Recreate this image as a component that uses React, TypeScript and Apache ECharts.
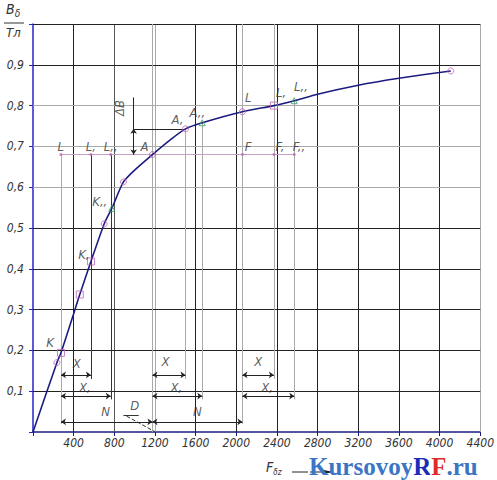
import React, { useEffect, useRef } from 'react';
import * as echarts from 'echarts';

// ---------- data ----------
const xTicks = [400, 800, 1200, 1600, 2000, 2400, 2800, 3200, 3600, 4000, 4400];
const yTicks = [0.1, 0.2, 0.3, 0.4, 0.5, 0.6, 0.7, 0.8, 0.9];
const xGridDark = [400, 1600, 2000, 2400, 2800, 3200, 3600, 4000];
const xGridMid = [800];
const xGridLight = [1200, 4400];
const yGridDark = [0.1, 0.2, 0.3, 0.4, 0.5, 0.9, 1.0];
const yGridLight = [0.6, 0.7, 0.8];

const curveF = [0, 235, 275, 400, 460, 570, 700, 775, 890, 1000, 1175, 1350, 1500, 1665, 2060, 2370, 2570, 2800, 3200, 3600, 4110];
const curveB = [0, 0.17, 0.194, 0.29, 0.337, 0.418, 0.51, 0.548, 0.613, 0.642, 0.68, 0.716, 0.743, 0.758, 0.785, 0.8, 0.812, 0.828, 0.85, 0.867, 0.885];

const squareF = [275, 460, 570, 2370];
const squareB = [0.194, 0.337, 0.418, 0.8];
const circleF = [235, 700, 890, 1175, 1500, 2060, 4110];
const circleB = [0.17, 0.51, 0.613, 0.68, 0.743, 0.785, 0.885];
const greenF = [775, 1665, 2570];
const greenB = [0.548, 0.758, 0.812];

const levelB = 0.68;
const levelF = [275, 570, 765, 2060, 2370, 2570];

// vertical construction lines: F, from B, to B, dark?
const vertF = [275, 570, 765, 1175, 1500, 1665, 2060, 2370, 2570];
const vertTop = [0.68, 0.68, 0.68, 1.0, 0.743, 0.758, 1.0, 1.0, 0.812];
const vertBottom = [0.02, 0.13, 0.08, 0.0, 0.13, 0.08, 0.02, 0.13, 0.08];
const vertDark = [false, true, true, false, false, false, false, false, false];

const dimXStart = [275, 1175, 2060];
const dimXEnd = [570, 1500, 2370];
const dimXLevel = 0.14;
const dimX1End = [765, 1665, 2570];
const dimX1Level = 0.088;
const dimNStart = [275, 1175];
const dimNEnd = [1175, 2060];
const dimNLevel = 0.025;

const deltaF = 990;
const deltaTop = 0.82;

const labelText = ['K', 'K,', 'K,,', 'A', 'A,', 'A,,', 'L', 'L,', 'L,,', 'L', 'L,', 'L,,', 'F', 'F,', 'F,,',
  'X', 'X', 'X', 'X,', 'X,', 'X,', 'N', 'N', 'D'];
const labelF = [167, 500, 657, 1098, 1421, 1617, 2117, 2440, 2636, 274, 568, 764, 2117, 2430, 2617,
  431, 1303, 2215, 510, 1411, 2303, 715, 1617, 1000];
const labelB = [0.22, 0.436, 0.564, 0.70, 0.765, 0.784, 0.819, 0.833, 0.846, 0.70, 0.70, 0.70, 0.70, 0.70, 0.70,
  0.167, 0.172, 0.172, 0.108, 0.108, 0.108, 0.051, 0.051, 0.064];

// ---------- styles ----------
const FONT = '"Liberation Sans Narrow", "DejaVu Sans Condensed", "Liberation Sans", sans-serif';
const NAVY = '#1c1c80';
const PINK = '#c062b8';
const GREEN = '#2fa060';

const pair = (a: number[], b: number[]) => a.map((v, i) => [v, b[i]]);

export default function App() {
  const ref = useRef<HTMLDivElement>(null);
  useEffect(() => {
    if (!ref.current) return;
    const chart = echarts.init(ref.current, null, { renderer: 'svg' });

    const gridLines: any[] = [];
    xGridDark.forEach(v => gridLines.push({ xAxis: v, lineStyle: { color: '#222', width: 1, type: 'solid' } }));
    xGridMid.forEach(v => gridLines.push({ xAxis: v, lineStyle: { color: '#555', width: 1, type: 'solid' } }));
    xGridLight.forEach(v => gridLines.push({ xAxis: v, lineStyle: { color: '#aaa', width: 1, type: 'solid' } }));
    yGridDark.forEach(v => gridLines.push({ yAxis: v, lineStyle: { color: '#222', width: 1, type: 'solid' } }));
    yGridLight.forEach(v => gridLines.push({ yAxis: v, lineStyle: { color: '#aaa', width: 1, type: 'solid' } }));

    const constr: any[] = [];
    vertF.forEach((f, i) => constr.push([
      { coord: [f, vertTop[i]], lineStyle: { color: vertDark[i] ? '#333' : '#aaa', width: 1, type: 'solid' } },
      { coord: [f, vertBottom[i]] },
    ]));
    constr.push([
      { coord: [levelF[0], levelB], lineStyle: { color: '#c9a0c4', width: 1, type: 'solid' } },
      { coord: [levelF[levelF.length - 1], levelB] },
    ]);
    // delta B
    constr.push([{ coord: [deltaF, levelB], lineStyle: { color: '#222', width: 1, type: 'solid' } }, { coord: [deltaF, deltaTop] }]);
    constr.push([{ coord: [deltaF, circleB[4]], lineStyle: { color: '#222', width: 1, type: 'solid' } }, { coord: [circleF[4], circleB[4]] }]);
    // D leader + underline
    constr.push([{ coord: [920, 0.039], lineStyle: { color: '#333', width: 1, type: 'dashed' } }, { coord: [1205, 0] }]);
    constr.push([{ coord: [890, 0.041], lineStyle: { color: '#333', width: 1, type: 'solid' } }, { coord: [1040, 0.041] }]);

    const dims: any[] = [];
    const dimStyle = { color: '#222', width: 1, type: 'solid' };
    dimXStart.forEach((s, i) => {
      dims.push([{ coord: [s, dimXLevel], lineStyle: dimStyle }, { coord: [dimXEnd[i], dimXLevel] }]);
      dims.push([{ coord: [s, dimX1Level], lineStyle: dimStyle }, { coord: [dimX1End[i], dimX1Level] }]);
    });
    dimNStart.forEach((s, i) => dims.push([{ coord: [s, dimNLevel], lineStyle: dimStyle }, { coord: [dimNEnd[i], dimNLevel] }]));
    dims.push([{ coord: [deltaF, circleB[4]], lineStyle: dimStyle }, { coord: [deltaF, levelB] }]);

    const labelData: any[] = labelText.map((t, i) => ({ name: t, value: [labelF[i], labelB[i]] }));
    labelData.push({ name: 'ΔB', value: [853, 0.794], label: { rotate: 90 } });

    const textStyle = { fontFamily: FONT, fontStyle: 'italic', fontSize: 12, color: '#333' };
    const WM = '"Liberation Serif", "DejaVu Serif", serif';

    chart.setOption({
      animation: false,
      backgroundColor: '#fff',
      grid: { left: 33, right: 15, top: 24, bottom: 48, containLabel: false },
      xAxis: {
        type: 'value', min: 0, max: 4400, interval: 400,
        axisLine: { show: true, lineStyle: { color: NAVY, width: 1.5 } },
        axisTick: { show: true, length: 4, lineStyle: { color: NAVY } },
        splitLine: { show: false },
        axisLabel: {
          ...textStyle, margin: 5,
          formatter: (v: number) => (xTicks.includes(v) ? String(v) : ''),
        },
      },
      yAxis: {
        type: 'value', min: 0, max: 1, interval: 0.1,
        axisLine: { show: true, lineStyle: { color: '#2424c8', width: 1.5 } },
        axisTick: { show: true, length: 4, lineStyle: { color: '#2424c8' } },
        splitLine: { show: false },
        axisLabel: {
          ...textStyle, margin: 9,
          formatter: (v: number) => {
            const r = Math.round(v * 10) / 10;
            return yTicks.includes(r) ? r.toFixed(1).replace('.', ',') : '';
          },
        },
      },
      series: [
        {
          type: 'line', data: [], silent: true,
          markLine: { silent: true, symbol: 'none', label: { show: false }, data: gridLines },
        },
        {
          type: 'line', data: [], silent: true,
          markLine: { silent: true, symbol: 'none', label: { show: false }, data: constr },
        },
        {
          type: 'line', data: [], silent: true,
          markLine: { silent: true, symbol: ['arrow', 'arrow'], symbolSize: 5, label: { show: false }, data: dims },
        },
        {
          type: 'line', data: pair(curveF, curveB), smooth: 0.25, showSymbol: false,
          lineStyle: { color: NAVY, width: 1.6 }, z: 5,
        },
        {
          type: 'scatter', data: levelF.map(f => [f, levelB]), symbol: 'circle', symbolSize: 3,
          itemStyle: { color: PINK }, z: 6,
        },
        {
          type: 'scatter', data: pair(squareF, squareB), symbol: 'rect', symbolSize: 7,
          itemStyle: { color: 'transparent', borderColor: PINK, borderWidth: 1 }, z: 6,
        },
        {
          type: 'scatter', data: pair(circleF, circleB), symbol: 'circle', symbolSize: 6,
          itemStyle: { color: 'transparent', borderColor: PINK, borderWidth: 1 }, z: 6,
        },
        {
          type: 'scatter', data: pair(greenF, greenB), symbol: 'triangle', symbolSize: 6,
          itemStyle: { color: 'transparent', borderColor: GREEN, borderWidth: 1 }, z: 6,
        },
        {
          type: 'scatter', data: labelData, symbolSize: 0, z: 7,
          label: { show: true, position: 'inside', formatter: (p: any) => p.name, ...textStyle, fontSize: 13 },
        },
      ],
      graphic: [
        { type: 'text', left: 6, top: 2, style: { text: '{b|B}{s|δ}', rich: { b: { fontFamily: FONT, fontStyle: 'italic', fontSize: 14, fill: '#333' }, s: { fontFamily: FONT, fontStyle: 'italic', fontSize: 10, fill: '#333', padding: [8, 0, 0, 0] } } } },
        { type: 'line', shape: { x1: 4, y1: 23, x2: 24, y2: 23 }, style: { stroke: '#333', lineWidth: 1 } },
        { type: 'text', left: 6, top: 26, style: { text: 'Тл', fontFamily: FONT, fontStyle: 'italic', fontSize: 13, fill: '#333' } },
        { type: 'text', left: 266, top: 460, style: { text: '{b|F}{s|δz}', rich: { b: { fontFamily: FONT, fontStyle: 'italic', fontSize: 14, fill: '#333' }, s: { fontFamily: FONT, fontStyle: 'italic', fontSize: 8, fill: '#333', padding: [10, 0, 0, 0] } } } },
        { type: 'line', shape: { x1: 292, y1: 472, x2: 332, y2: 472 }, style: { stroke: '#222', lineWidth: 1 } },
        { type: 'polygon', shape: { points: [[333, 472], [324, 470], [324, 474]] }, style: { fill: '#222' } },
        {
          type: 'text', left: 308, top: 453, z: 100,
          style: {
            text: '{k|Kursovoy}{r|R}{f|F}{k|.ru}',
            rich: {
              k: { fontFamily: WM, fontWeight: 'bold', fontSize: 25, fill: '#3b76c6', textBorderColor: '#fff', textBorderWidth: 2 },
              r: { fontFamily: WM, fontWeight: 'bold', fontSize: 25, fill: '#1c2cb8', textBorderColor: '#fff', textBorderWidth: 2 },
              f: { fontFamily: WM, fontWeight: 'bold', fontSize: 25, fill: '#e02a2a', textBorderColor: '#fff', textBorderWidth: 2 },
            },
          },
        },
      ],
    });
    return () => chart.dispose();
  }, []);
  return <div ref={ref} style={{ width: 497, height: 480, position: 'absolute', left: 0, top: 0 }} />;
}
